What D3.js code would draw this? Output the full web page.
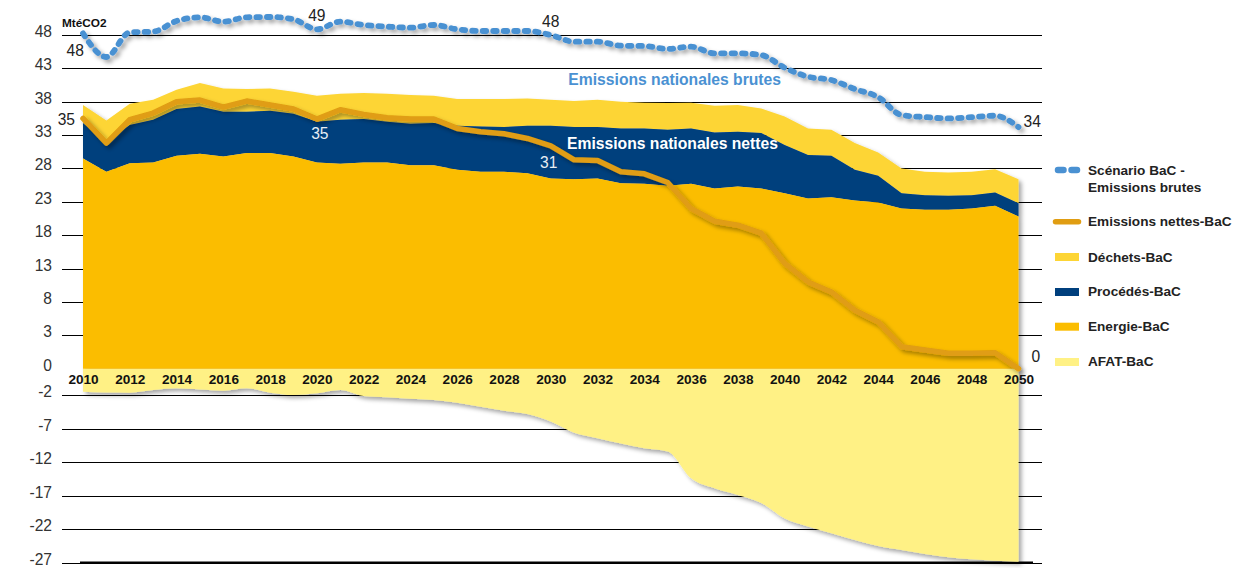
<!DOCTYPE html>
<html>
<head>
<meta charset="utf-8">
<script src="https://cdn.jsdelivr.net/npm/d3@7"></script>
<style>
  html, body { margin: 0; padding: 0; background: #fff; }
  svg { display: block; font-family: "Liberation Sans", Arial, sans-serif; }
</style>
</head>
<body>
<svg id="chart" width="1233" height="568"></svg>
<script>
// ---------------- DATA ----------------
const years = d3.range(2010, 2051);
const grossEmissions = [48.25, 44.7, 48.4, 48.5, 50.1, 50.65, 50.0, 50.65, 50.7, 50.35, 48.85, 50.0, 49.5, 49.25, 49.1, 49.5, 48.85, 48.6, 48.6, 48.6, 48.0, 47.0, 47.0, 46.4, 46.35, 45.9, 46.25, 45.25, 45.25, 45.0, 43.1, 41.75, 41.25, 39.9, 38.7, 36.0, 35.7, 35.5, 35.7, 35.9, 34.2];
const netEmissions = [35.5, 31.8, 35.3, 36.3, 38.0, 38.25, 37.2, 38.1, 37.5, 36.9, 35.4, 36.8, 36.1, 35.6, 35.4, 35.4, 34.0, 33.5, 33.2, 32.5, 31.4, 29.3, 29.2, 27.5, 27.2, 25.9, 22.0, 20.1, 19.5, 18.3, 13.8, 11.0, 9.5, 6.75, 5.0, 1.98, 1.68, 1.38, 1.38, 1.44, 0.0];
const energie = [29.5, 27.5, 28.8, 28.9, 29.9, 30.2, 29.8, 30.3, 30.3, 29.8, 28.9, 28.7, 28.9, 28.9, 28.5, 28.5, 27.8, 27.5, 27.5, 27.3, 26.5, 26.4, 26.5, 25.8, 25.7, 25.4, 25.7, 25.0, 25.3, 25.0, 24.3, 23.5, 23.7, 23.2, 22.9, 22.0, 21.8, 21.8, 22.0, 22.4, 20.8];
const procedes = [5.3, 4.5, 5.7, 6.4, 7.0, 7.1, 6.7, 6.2, 6.35, 6.4, 6.1, 6.6, 6.5, 6.1, 6.2, 6.3, 6.6, 6.8, 6.7, 7.1, 7.9, 7.8, 7.7, 8.2, 8.3, 8.4, 8.3, 8.4, 8.2, 8.3, 7.2, 6.5, 6.2, 4.6, 4.0, 2.3, 2.2, 2.1, 2.0, 2.0, 2.0];
const dechets = [2.7, 3.2, 3.2, 3.0, 2.9, 3.5, 3.5, 3.4, 3.35, 3.3, 3.9, 3.9, 3.9, 4.2, 4.3, 4.1, 4.0, 4.1, 4.2, 4.1, 3.9, 3.9, 4.1, 4.0, 3.85, 4.0, 3.85, 4.0, 4.0, 3.7, 4.3, 4.0, 3.9, 4.0, 3.5, 3.7, 3.5, 3.5, 3.5, 3.5, 3.6];
const afat = [-1.73, -1.79, -1.80, -1.60, -1.47, -1.56, -1.65, -1.47, -1.80, -1.98, -1.85, -1.60, -2.1, -2.3, -2.52, -2.7, -3.1, -3.7, -4.3, -4.8, -5.9, -7.6, -8.4, -9.2, -9.9, -10.4, -14.4, -15.9, -16.9, -18.1, -20.4, -21.6, -22.6, -23.6, -24.5, -25.1, -25.7, -26.2, -26.5, -26.7, -26.85];
const yTickValues = [48, 43, 38, 33, 28, 23, 18, 13, 8, 3, 0, -2, -7, -12, -17, -22, -27];
const xTickValues = d3.range(2010, 2051, 2);
const seriesNames = ["Scénario BaC -\nEmissions brutes", "Emissions nettes-BaC", "Déchets-BaC", "Procédés-BaC", "Energie-BaC", "AFAT-BaC"];
const pointLabels = [
  {series: "gross", year: 2010, text: "48"},
  {series: "gross", year: 2020, text: "49"},
  {series: "gross", year: 2030, text: "48"},
  {series: "gross", year: 2050, text: "34"},
  {series: "net", year: 2010, text: "35"},
  {series: "net", year: 2020, text: "35"},
  {series: "net", year: 2030, text: "31"},
  {series: "net", year: 2050, text: "0"}
];

// ---------------- STYLE ----------------
const C = {
  gross: "#4a91d2", net: "#e09d12", dechets: "#fdd535",
  procedes: "#003f7d", energie: "#fbbd00", afat: "#fff185"
};

const svg = d3.select("#chart");
const defs = svg.append("defs");
const f = defs.append("filter").attr("id", "sh").attr("x", "-5%").attr("y", "-10%").attr("width", "115%").attr("height", "130%");
f.append("feDropShadow").attr("dx", 3).attr("dy", 3).attr("stdDeviation", 2.2)
  .attr("flood-color", "#000").attr("flood-opacity", 0.35);

// Scales (axis as drawn in original: piecewise)
const x = d3.scaleLinear().domain([2010, 2050]).range([83, 1018.5]);
const y = d3.scaleLinear().domain([-27, -2, 0, 3, 48]).range([562.7, 395.3, 368.7, 335.3, 35]);

const gridX0 = 62, gridX1 = 1042;

// gridlines
svg.append("g").selectAll("line").data(yTickValues.filter(v => v !== 0)).join("line")
  .attr("x1", gridX0).attr("x2", gridX1)
  .attr("y1", d => Math.round(y(d)) + 0.5).attr("y2", d => Math.round(y(d)) + 0.5)
  .attr("stroke", "#000").attr("stroke-width", 1);
svg.append("line").attr("x1", 80).attr("x2", 1033).attr("y1", y(-27)).attr("y2", y(-27))
  .attr("stroke", "#000").attr("stroke-width", 2.2);

// table for stacking
const table = years.map((yr, i) => ({year: yr, energie: energie[i], procedes: procedes[i], dechets: dechets[i], afat: afat[i]}));
const stack = d3.stack().keys(["energie", "procedes", "dechets"]);
const stacked = stack(table);

const areaG = svg.append("g").attr("filter", "url(#sh)");
areaG.append("path").datum(table)
  .attr("d", d3.area().x(d => x(d.year)).y0(y(0)).y1(d => y(d.afat)).curve(d3.curveMonotoneX))
  .attr("fill", C.afat);
const fills = {energie: C.energie, procedes: C.procedes, dechets: C.dechets};
areaG.selectAll("path.st").data(stacked.slice().reverse()).join("path").attr("class", "st")
  .attr("d", d3.area().x(d => x(d.data.year)).y0(d => y(d[0])).y1(d => y(d[1])))
  .attr("fill", s => fills[s.key]);

// zero axis
svg.append("line").attr("x1", gridX0).attr("x2", gridX1).attr("y1", y(0)).attr("y2", y(0))
  .attr("stroke", "#000").attr("stroke-width", 3).attr("filter", "url(#sh)");

// net line
const netLine = d3.line().x((d, i) => x(years[i])).y(d => y(d));
svg.append("path").datum(netEmissions).attr("d", netLine)
  .attr("fill", "none").attr("stroke", C.net).attr("stroke-width", 5.5)
  .attr("stroke-linejoin", "round").attr("stroke-linecap", "round").attr("filter", "url(#sh)");

// gross line
const grossLine = d3.line().x((d, i) => x(years[i])).y(d => y(d)).curve(d3.curveMonotoneX);
svg.append("path").datum(grossEmissions).attr("d", grossLine)
  .attr("fill", "none").attr("stroke", C.gross).attr("stroke-width", 5.8)
  .attr("stroke-dasharray", "3.5,7").attr("stroke-linecap", "round").attr("filter", "url(#sh)");

// y axis labels
const yAxis = svg.append("g").attr("transform", `translate(${gridX0},0)`)
  .call(d3.axisLeft(y).tickValues(yTickValues).tickSize(0).tickPadding(10).tickFormat(d => String(d)));
yAxis.select(".domain").remove();
yAxis.selectAll("text").attr("dy", "1.5").attr("font-size", "15.6px")
  .attr("font-family", "Liberation Sans, Arial, sans-serif").attr("fill", "#333");

// x axis labels
const xAxis = svg.append("g").attr("transform", "translate(0,384)")
  .call(d3.axisBottom(x).tickValues(xTickValues).tickSize(0).tickFormat(d => String(d)));
xAxis.select(".domain").remove();
xAxis.selectAll("text").attr("y", 0).attr("dy", 0).attr("font-size", "13.6px").attr("font-weight", "bold")
  .attr("font-family", "Liberation Sans, Arial, sans-serif").attr("fill", "#111");

// unit
svg.append("text").attr("x", 62).attr("y", 27).attr("font-size", "11.8px").attr("font-weight", "bold")
  .attr("fill", "#111").text("MtéCO2");

// point labels
const lbl = {
  "gross2010": {y: 56, anchor: "start", fill: "#222", xo: -16.5},
  "gross2020": {y: 21, anchor: "middle", fill: "#222", xo: 0},
  "gross2030": {y: 27, anchor: "middle", fill: "#222", xo: 0},
  "gross2050": {y: 127, anchor: "start", fill: "#222", xo: 5},
  "net2010": {y: 125, anchor: "end", fill: "#222", xo: -8},
  "net2020": {y: 139, anchor: "middle", fill: "#e8eef4", xo: 3},
  "net2030": {y: 168, anchor: "middle", fill: "#e8eef4", xo: -2},
  "net2050": {y: 362, anchor: "start", fill: "#222", xo: 13}
};
svg.append("g").selectAll("text").data(pointLabels).join("text")
  .attr("x", d => x(d.year) + lbl[d.series + d.year].xo)
  .attr("y", d => lbl[d.series + d.year].y)
  .attr("text-anchor", d => lbl[d.series + d.year].anchor)
  .attr("fill", d => lbl[d.series + d.year].fill)
  .attr("font-size", "15.6px").text(d => d.text);

// area annotations
svg.append("text").attr("x", 568.3).attr("y", 85).attr("font-size", "15.7px").attr("font-weight", "bold")
  .attr("fill", C.gross).text("Emissions nationales brutes");
svg.append("text").attr("x", 567).attr("y", 149).attr("font-size", "15.7px").attr("font-weight", "bold")
  .attr("fill", "#fff").text("Emissions nationales nettes");

// legend
const lg = svg.append("g").attr("font-size", "13.6px").attr("font-weight", "bold").attr("fill", "#222");
const legendRows = [
  {type: "dash", color: C.gross, my: 170, ty: [175, 192]},
  {type: "line", color: C.net, my: 221.7, ty: [226]},
  {type: "rect", color: C.dechets, my: 257, ty: [261.5]},
  {type: "rect", color: C.procedes, my: 292, ty: [296]},
  {type: "rect", color: C.energie, my: 326.7, ty: [330.5]},
  {type: "rect", color: C.afat, my: 362, ty: [366]}
];
legendRows.forEach((r, i) => {
  if (r.type === "rect") {
    lg.append("rect").attr("x", 1055).attr("y", r.my - 4).attr("width", 24).attr("height", 8).attr("fill", r.color);
  } else if (r.type === "line") {
    lg.append("line").attr("x1", 1055.5).attr("x2", 1078.5).attr("y1", r.my).attr("y2", r.my)
      .attr("stroke", r.color).attr("stroke-width", 5.5).attr("stroke-linecap", "round");
  } else {
    lg.append("line").attr("x1", 1058).attr("x2", 1080).attr("y1", r.my).attr("y2", r.my)
      .attr("stroke", r.color).attr("stroke-width", 6.5).attr("stroke-linecap", "round")
      .attr("stroke-dasharray", "5.5,8");
  }
  const lines = seriesNames[i].split("\n");
  lines.forEach((t, j) => {
    lg.append("text").attr("x", 1088).attr("y", r.ty[j]).text(t);
  });
});
</script>
</body>
</html>
